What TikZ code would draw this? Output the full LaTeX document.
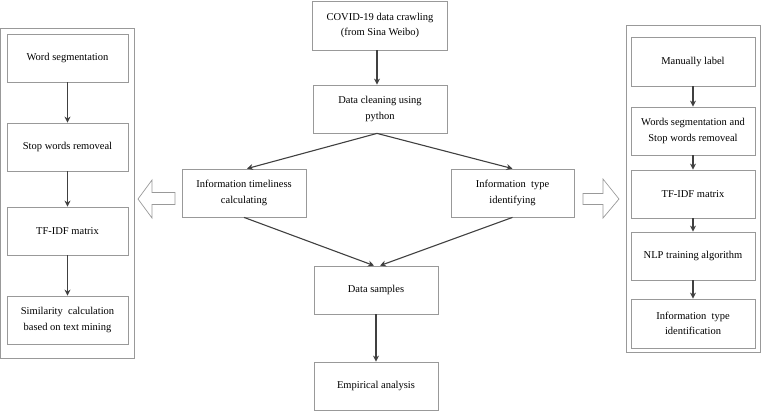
\documentclass[tikz,border=0pt]{standalone}
\usepackage{fontspec}
\setmainfont{Liberation Serif}
\usetikzlibrary{arrows.meta}
\begin{document}
\begin{tikzpicture}[x=1pt,y=-1pt,
  box/.style={draw=black!40, line width=0.8pt, fill=white, inner sep=0pt, align=center,
    font=\fontsize{10.5}{15.5}\selectfont, minimum height=48pt},
  panel/.style={draw=black!40, line width=0.8pt},
  flow/.style={draw=black!75, line width=1.1pt, -{Stealth[length=6pt,width=6pt]}},
  hollow/.style={draw=black!40, line width=0.7pt, fill=white}]
\useasboundingbox (0,0) rectangle (764,413);
% panels
\draw[panel] (0.5,28) rectangle (134,358);
\draw[panel] (626,25) rectangle (760,352);
% left column
\node[box, minimum width=121pt] (l1) at (67.5,58) {Word segmentation};
\node[box, minimum width=121pt] (l2) at (67.5,147) {Stop words removeal};
\node[box, minimum width=121pt] (l3) at (67.5,231) {TF-IDF matrix};
\node[box, minimum width=121pt] (l4) at (67.5,320) {Similarity\ \ calculation\\based on text mining};
% center column
\node[box, minimum width=135pt, minimum height=49pt] (c1) at (380,25.5) {COVID-19 data crawling\\(from Sina Weibo)};
\node[box, minimum width=134pt] (c2) at (380,109) {Data cleaning using\\python};
\node[box, minimum width=124pt] (c3) at (244,193) {Information timeliness\\calculating};
\node[box, minimum width=123pt] (c4) at (512.5,193) {Information\ \ type\\identifying};
\node[box, minimum width=124pt] (c5) at (376,290) {Data samples};
\node[box, minimum width=124pt] (c6) at (376,386) {Empirical analysis};
% right column
\node[box, minimum width=124pt, minimum height=49pt] (r1) at (693,61.5) {Manually label};
\node[box, minimum width=124pt] (r2) at (693,131) {Words segmentation and\\Stop words removeal};
\node[box, minimum width=124pt] (r3) at (693,194) {TF-IDF matrix};
\node[box, minimum width=124pt] (r4) at (693,256) {NLP training algorithm};
\node[box, minimum width=124pt, minimum height=49pt] (r5) at (693,323.5) {Information\ \ type\\identification};
% connectors
\draw[flow] (l1) -- (l2);
\draw[flow] (l2) -- (l3);
\draw[flow] (l3) -- (l4);
\draw[flow] ([xshift=-3pt]c1.south) -- ([xshift=-3pt]c2.north);
\draw[flow] ([xshift=-3pt]c2.south) -- ([xshift=3pt]c3.north);
\draw[flow] ([xshift=-3pt]c2.south) -- (c4.north);
\draw[flow] (c3.south) -- ([xshift=-2pt]c5.north);
\draw[flow] (c4.south) -- ([xshift=4pt]c5.north);
\draw[flow] (c5) -- (c6);
\draw[flow] (r1) -- (r2);
\draw[flow] (r2) -- (r3);
\draw[flow] (r3) -- (r4);
\draw[flow] (r4) -- (r5);
% hollow arrows
\draw[hollow] (175,192.5) -- (152,192.5) -- (152,180) -- (138,199) -- (152,218) -- (152,204.5) -- (175,204.5) -- cycle;
\draw[hollow] (583,193.5) -- (603,193.5) -- (603,179) -- (619,199) -- (603,218) -- (603,204.5) -- (583,204.5) -- cycle;
\end{tikzpicture}
\end{document}
